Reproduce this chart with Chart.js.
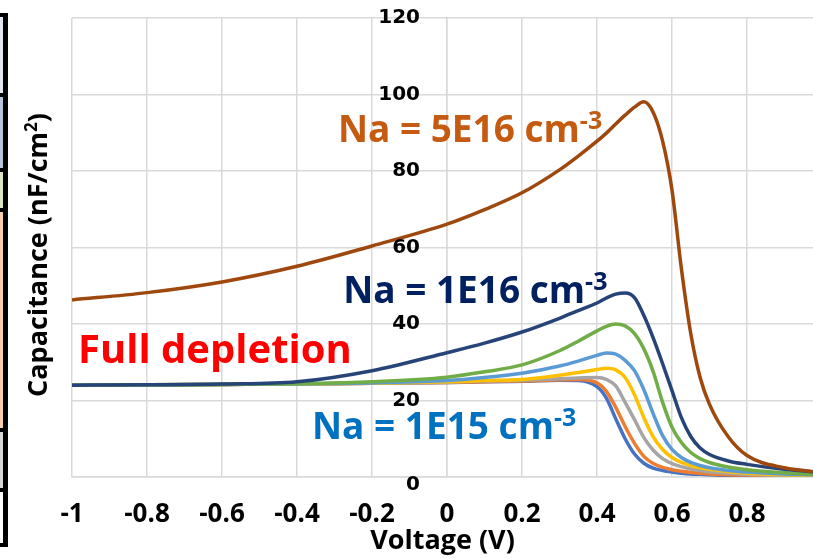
<!DOCTYPE html>
<html>
<head>
<meta charset="utf-8">
<script src="https://cdn.jsdelivr.net/npm/chart.js@4"></script>
<style>
  html, body { margin: 0; padding: 0; background: #fff; overflow: hidden; }
  canvas { display: block; }
</style>
</head>
<body>
<canvas id="cv" width="813" height="558"></canvas>
<script>
// gate voltage (V)
const voltage = [-1, -0.8, -0.6, -0.4, -0.2, 0, 0.1, 0.2, 0.3, 0.35, 0.4, 0.425, 0.45, 0.475, 0.5, 0.525, 0.55, 0.575, 0.6, 0.625, 0.65, 0.675, 0.7, 0.75, 0.8, 0.9, 1.0];

// capacitance (nF/cm2) per doping level, highest first
const capNa5e16 = [46.3, 48.2, 51.0, 55.1, 60.4, 66.1, 69.9, 74.3, 80.3, 83.9, 87.8, 89.9, 92.3, 94.6, 96.7, 98.1, 95.3, 87.8, 75.0, 54.5, 37.5, 26.0, 19.0, 10.5, 5.6, 2.4, 1.2];
const capNa1e16 = [24.0, 24.1, 24.3, 24.9, 27.8, 32.5, 35.0, 37.9, 41.5, 43.5, 45.5, 46.8, 47.8, 48.1, 46.9, 42.2, 36.3, 29.6, 22.6, 15.5, 10.6, 7.6, 5.9, 4.2, 3.3, 2.0, 1.2];
const capGreen  = [24.0, 24.1, 24.2, 24.4, 24.9, 26.1, 27.5, 29.3, 33.0, 35.5, 38.2, 39.4, 40.0, 39.5, 37.5, 33.5, 27.5, 19.5, 13.0, 9.0, 6.4, 4.8, 3.8, 2.6, 1.9, 1.1, 0.6];
const capLtBlue = [24.0, 24.1, 24.2, 24.3, 24.6, 25.2, 26.0, 27.1, 29.0, 30.3, 31.8, 32.4, 32.1, 30.5, 27.8, 22.8, 16.5, 10.8, 7.2, 5.1, 3.8, 3.0, 2.4, 1.7, 1.3, 0.8, 0.5];
const capGold   = [24.0, 24.1, 24.2, 24.3, 24.5, 24.9, 25.2, 25.5, 26.6, 27.3, 28.1, 28.4, 28.0, 26.0, 21.5, 15.5, 10.5, 7.2, 5.1, 3.8, 3.0, 2.4, 2.0, 1.4, 1.0, 0.6, 0.4];
const capGray   = [24.0, 24.1, 24.2, 24.3, 24.5, 24.8, 25.1, 25.3, 25.7, 25.9, 26.0, 25.5, 23.8, 19.5, 15.0, 10.3, 7.0, 4.8, 3.5, 2.7, 2.1, 1.7, 1.4, 1.0, 0.7, 0.4, 0.3];
const capOrange = [24.0, 24.1, 24.2, 24.3, 24.5, 24.7, 24.9, 25.1, 25.4, 25.5, 24.6, 22.4, 18.2, 13.2, 8.8, 5.4, 3.5, 2.5, 1.9, 1.5, 1.2, 1.0, 0.8, 0.6, 0.5, 0.3, 0.2];
const capNa1e15 = [24.0, 24.1, 24.2, 24.3, 24.5, 24.7, 24.9, 25.0, 25.3, 25.2, 23.6, 20.6, 15.2, 10.0, 6.0, 3.6, 2.3, 1.7, 1.3, 1.0, 0.8, 0.7, 0.6, 0.4, 0.3, 0.2, 0.1];

const xTicks = [-1, -0.8, -0.6, -0.4, -0.2, 0, 0.2, 0.4, 0.6, 0.8];

// first entry is painted last, so the 5E16 curve stays on top
const series = [
    [capNa5e16, '#9E480E'],
    [capNa1e16, '#264478'],
    [capGreen, '#70AD47'],
    [capLtBlue, '#5B9BD5'],
    [capGold, '#FFC000'],
    [capGray, '#A5A5A5'],
    [capOrange, '#ED7D31'],
    [capNa1e15, '#4472C4'],
];

// curve labels, anchored in data units (left edge, baseline)
const notes = [
    { x: -0.291, y: 87.6, size: 37, color: '#C55A11', parts: [['Na = 5E16 cm', false], ['-3', true]] },
    { x: -0.277, y: 45.5, size: 37, color: '#002060', parts: [['Na = 1E16 cm', false], ['-3', true]] },
    { x: -0.984, y: 29.8, size: 40, color: '#FF0000', parts: [['Full depletion', false]] },
    { x: -0.360, y: 9.9,  size: 37, color: '#0070C0', parts: [['Na = 1E15 cm', false], ['-3', true]] },
];

// strips of the neighbouring panel peeking in at the left edge
const sideStrips = [
    [15, 95, '#e3e8f0'],
    [95, 170, '#b8c6dc'],
    [170, 210, '#dbe5c6'],
    [210, 430, '#f8cdae'],
    [430, 490, '#d6d6d6'],
    [490, 545, '#ffffff'],
];

const GRID = '#d9d9d9';

function richText(ctx, parts, x, y, size, supSize, raise) {
    let cx = x;
    for (const [t, sup] of parts) {
        ctx.font = `bold ${sup ? supSize : size}px "Open Sans"`;
        ctx.fillText(t, cx, sup ? y - raise : y);
        cx += ctx.measureText(t).width;
    }
    return cx - x;
}

const decorations = {
    id: 'decorations',
    beforeDraw(chart) {
        const ctx = chart.ctx;
        ctx.save();
        for (const [y0, y1, c] of sideStrips) {
            ctx.fillStyle = c;
            ctx.fillRect(0, y0, 4, y1 - y0);
        }
        ctx.fillStyle = '#000';
        ctx.fillRect(3, 14, 5, 532);
        for (const [y0] of sideStrips) ctx.fillRect(0, y0 - 2, 8, 4);
        ctx.fillRect(0, 543, 8, 4);
        ctx.restore();
    },
    afterDraw(chart) {
        const ctx = chart.ctx;
        const xs = chart.scales.x, ys = chart.scales.y;
        ctx.save();

        // y tick labels sit left of the axis line at V = 0
        ctx.fillStyle = '#000';
        ctx.font = 'bold 20px "DejaVu Sans"';
        ctx.textAlign = 'right';
        ctx.textBaseline = 'middle';
        const axisX = xs.getPixelForValue(0);
        for (const t of ys.ticks) {
            ctx.fillText(String(t.value), axisX - 27, ys.getPixelForValue(t.value) + (t.value === 0 ? 8 : 0));
        }

        ctx.textBaseline = 'alphabetic';
        ctx.textAlign = 'left';
        for (const n of notes) {
            ctx.fillStyle = n.color;
            richText(ctx, n.parts, xs.getPixelForValue(n.x), ys.getPixelForValue(n.y), n.size, 25, 13);
        }

        // y axis title, rotated
        ctx.fillStyle = '#000';
        ctx.translate(47, 255);
        ctx.rotate(-Math.PI / 2);
        const parts = [['Capacitance (nF/cm', false], ['2', true], [')', false]];
        ctx.globalAlpha = 0;
        const w = richText(ctx, parts, 0, 0, 27, 17, 10);
        ctx.globalAlpha = 1;
        richText(ctx, parts, -w / 2, 0, 27, 17, 10);
        ctx.restore();
    }
};

new Chart(document.getElementById('cv'), {
    type: 'line',
    data: {
        datasets: series.map(([vals, color]) => ({
            data: voltage.map((v, i) => ({ x: v, y: vals[i] })),
            borderColor: color,
            borderWidth: 3.5,
            pointRadius: 0,
            fill: false,
            cubicInterpolationMode: 'monotone',
        })),
    },
    options: {
        responsive: false,
        animation: false,
        layout: { padding: { left: 72, top: 18, right: 0, bottom: 0 } },
        scales: {
            x: {
                type: 'linear',
                min: -1,
                max: 0.976,
                afterBuildTicks: s => { s.ticks = xTicks.map(v => ({ value: v })); },
                afterFit: s => { s.height = 81; },
                grid: { color: GRID, lineWidth: 1.5, drawTicks: false },
                border: { color: GRID, width: 1.5 },
                ticks: {
                    padding: 22,
                    color: '#000',
                    font: { family: 'Open Sans', size: 26, weight: 'bold' },
                    callback: v => String(Math.round(v * 10) / 10),
                },
                title: {
                    display: true,
                    text: 'Voltage (V)',
                    color: '#000',
                    font: { family: 'Open Sans', size: 27, weight: 'bold' },
                    padding: { top: 0, bottom: 0 },
                },
            },
            y: {
                min: 0,
                max: 120,
                position: { x: 0 },
                afterFit: s => { s.paddingTop = 0; s.paddingBottom = 0; },
                grid: { color: GRID, lineWidth: 1.5, drawTicks: false },
                border: { color: GRID, width: 1.5 },
                ticks: { stepSize: 20, display: false },
            },
        },
        plugins: {
            legend: { display: false },
            tooltip: { enabled: false },
        },
    },
    plugins: [decorations],
});
</script>
</body>
</html>
